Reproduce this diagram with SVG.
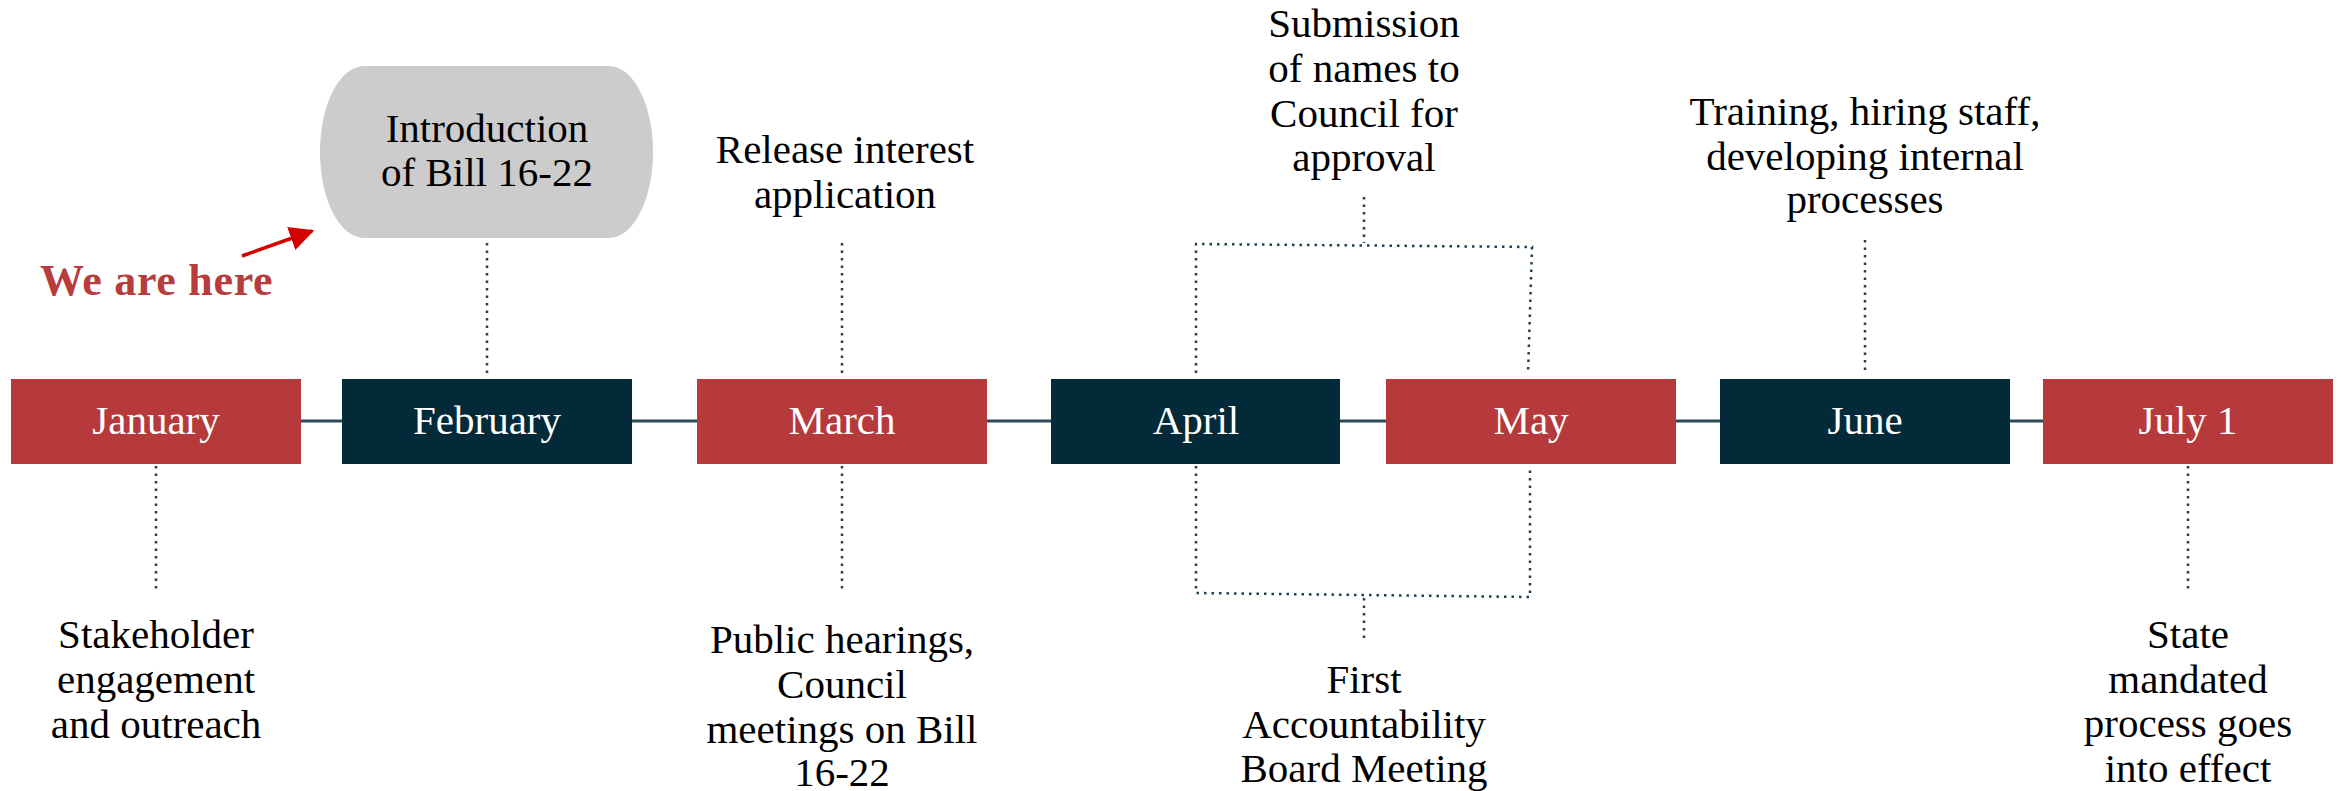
<svg xmlns="http://www.w3.org/2000/svg" width="2349" height="791" viewBox="0 0 2349 791">
  <style>
    text { font-family: "Liberation Serif", "Times New Roman", serif; }
    .month { fill: #ffffff; font-size: 41px; text-anchor: middle; }
    .note { fill: #000000; font-size: 41px; text-anchor: middle; }
    .red { fill: #b6393b; }
    .navy { fill: #022a38; }
    .dot { fill: none; stroke: #1f4250; stroke-width: 2.5; stroke-dasharray: 2.5 5; }
    .axis { stroke: #2b4a58; stroke-width: 3; }
    .here { fill: #b83c3c; font-size: 44px; font-weight: bold; letter-spacing: 0.7px; }
  </style>
  <defs>
    <marker id="arrowhead" viewBox="0 0 10 10" refX="9" refY="5" markerWidth="7" markerHeight="7" markerUnits="strokeWidth" orient="auto">
      <path d="M0,0 L10,5 L0,10 z" fill="#d40000"/>
    </marker>
  </defs>

  <rect width="2349" height="791" fill="#ffffff"/>

  <!-- connectors: timeline axis and dotted leaders -->
  <g id="connectors">
    <line class="axis" x1="301" y1="421" x2="342" y2="421"/>
    <line class="axis" x1="632" y1="421" x2="697" y2="421"/>
    <line class="axis" x1="987" y1="421" x2="1051" y2="421"/>
    <line class="axis" x1="1340" y1="421" x2="1386" y2="421"/>
    <line class="axis" x1="1676" y1="421" x2="1720" y2="421"/>
    <line class="axis" x1="2010" y1="421" x2="2043" y2="421"/>

    <line class="dot" x1="487" y1="243" x2="487" y2="373"/>
    <line class="dot" x1="156" y1="466" x2="156" y2="593"/>
    <line class="dot" x1="842" y1="243" x2="842" y2="373"/>
    <line class="dot" x1="842" y1="466" x2="842" y2="592"/>
    <line class="dot" x1="1865" y1="240" x2="1865" y2="370"/>
    <line class="dot" x1="2188" y1="466" x2="2188" y2="593"/>

    <!-- April/May shared brackets -->
    <line class="dot" x1="1364" y1="197" x2="1364" y2="243"/>
    <polyline class="dot" points="1196,373 1196,244 1532,247 1528,374"/>
    <polyline class="dot" points="1196,466 1196,593 1530,597 1530,466"/>
    <line class="dot" x1="1364" y1="598" x2="1364" y2="641"/>

    <!-- pointer to current stage -->
    <line x1="242" y1="256" x2="312" y2="231" stroke="#d40000" stroke-width="3.5" marker-end="url(#arrowhead)"/>
  </g>

  <!-- month nodes -->
  <g id="january">
    <rect class="red" x="11" y="379" width="290" height="85"/>
    <text class="month" x="156" y="434">January</text>
  </g>
  <g id="february">
    <rect class="navy" x="342" y="379" width="290" height="85"/>
    <text class="month" x="487" y="434">February</text>
  </g>
  <g id="march">
    <rect class="red" x="697" y="379" width="290" height="85"/>
    <text class="month" x="842" y="434">March</text>
  </g>
  <g id="april">
    <rect class="navy" x="1051" y="379" width="289" height="85"/>
    <text class="month" x="1196" y="434">April</text>
  </g>
  <g id="may">
    <rect class="red" x="1386" y="379" width="290" height="85"/>
    <text class="month" x="1531" y="434">May</text>
  </g>
  <g id="june">
    <rect class="navy" x="1720" y="379" width="290" height="85"/>
    <text class="month" x="1865" y="434">June</text>
  </g>
  <g id="july">
    <rect class="red" x="2043" y="379" width="290" height="85"/>
    <text class="month" x="2188" y="434">July 1</text>
  </g>

  <!-- milestone nodes -->
  <g id="bill-introduction">
    <rect x="320" y="66" width="333" height="172" rx="44" ry="86" fill="#cccccc"/>
    <text class="note" x="487" y="142">Introduction</text>
    <text class="note" x="487" y="186">of Bill 16-22</text>
  </g>

  <g id="we-are-here">
    <text class="here" x="40" y="295">We are here</text>
  </g>

  <g id="stakeholder-engagement">
    <text class="note" x="156" y="648">Stakeholder</text>
    <text class="note" x="156" y="693">engagement</text>
    <text class="note" x="156" y="738">and outreach</text>
  </g>

  <g id="release-application">
    <text class="note" x="845" y="163">Release interest</text>
    <text class="note" x="845" y="208">application</text>
  </g>

  <g id="public-hearings">
    <text class="note" x="842" y="653">Public hearings,</text>
    <text class="note" x="842" y="698">Council</text>
    <text class="note" x="842" y="743">meetings on Bill</text>
    <text class="note" x="842" y="786">16-22</text>
  </g>

  <g id="submission-of-names">
    <text class="note" x="1364" y="37">Submission</text>
    <text class="note" x="1364" y="82">of names to</text>
    <text class="note" x="1364" y="127">Council for</text>
    <text class="note" x="1364" y="171">approval</text>
  </g>

  <g id="first-board-meeting">
    <text class="note" x="1364" y="693">First</text>
    <text class="note" x="1364" y="738">Accountability</text>
    <text class="note" x="1364" y="782">Board Meeting</text>
  </g>

  <g id="training">
    <text class="note" x="1865" y="125">Training, hiring staff,</text>
    <text class="note" x="1865" y="170">developing internal</text>
    <text class="note" x="1865" y="213">processes</text>
  </g>

  <g id="state-mandate">
    <text class="note" x="2188" y="648">State</text>
    <text class="note" x="2188" y="693">mandated</text>
    <text class="note" x="2188" y="737">process goes</text>
    <text class="note" x="2188" y="782">into effect</text>
  </g>
</svg>
